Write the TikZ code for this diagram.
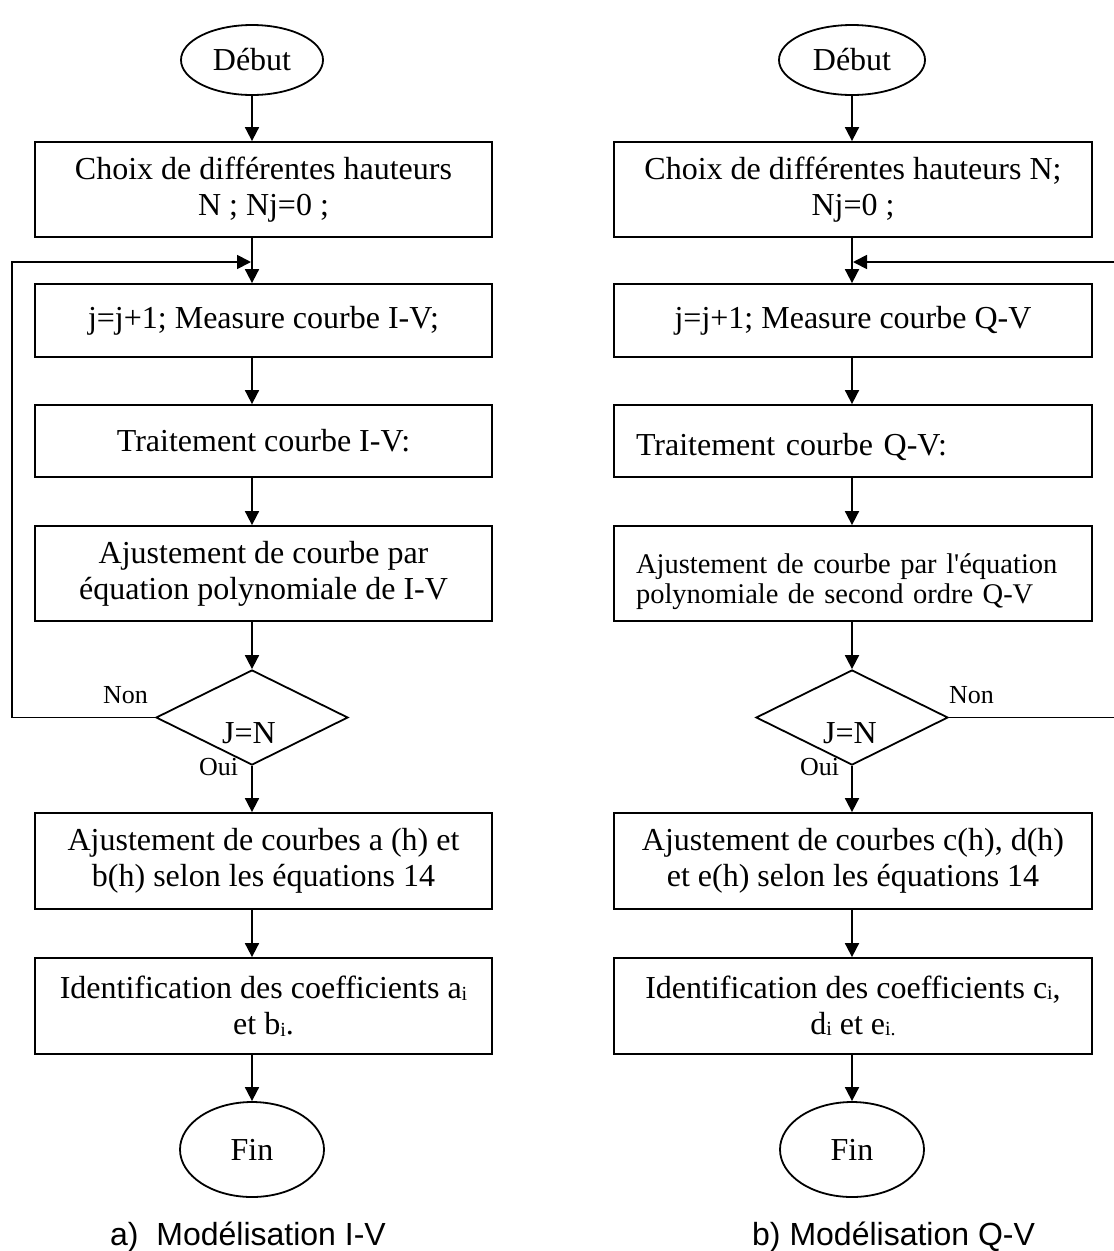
\documentclass[tikz,border=0pt]{standalone}
\usepackage{fontspec}
\setmainfont{Liberation Serif}
\newfontfamily\capfont{Liberation Sans}
\usetikzlibrary{shapes.geometric,arrows.meta}
\newcommand{\mysub}[1]{\raisebox{-1.5pt}{\fontsize{20}{20}\selectfont #1}}
\begin{document}
\begin{tikzpicture}[x=1pt,y=-1pt,
  every node/.style={inner sep=0pt},
  big/.style={font=\fontsize{32}{36}\selectfont},
  lbox/.style={draw, line width=1.8pt, minimum width=457pt, align=center, big},
  rbox/.style={draw, line width=1.8pt, minimum width=478pt, align=center, big},
  rlbox/.style={draw, line width=1.8pt, text width=434pt, inner xsep=22pt, inner ysep=0pt, align=left},
  term/.style={ellipse, draw, line width=1.8pt, big},
  decision/.style={diamond, draw, line width=1.8pt, minimum width=192pt, minimum height=95pt},
  arr/.style={line width=1.8pt, -{Triangle[length=14pt,width=14pt]}},
  lbl/.style={font=\fontsize{26}{26}\selectfont, anchor=base west},
  cond/.style={big, anchor=base west},
  captext/.style={font=\capfont\fontsize{32}{36}\selectfont, anchor=base west}]
\useasboundingbox (0,0) rectangle (1114,1251);

% ---------- left column ----------
\node[term, minimum width=142pt, minimum height=70pt] (debL) at (252,60) {Début};
\node[lbox, minimum height=95pt] (b1L) at (263.5,189.5) {Choix de différentes hauteurs\\N ; Nj=0 ;};
\node[lbox, minimum height=73pt] (b2L) at (263.5,320.5) {j=j+1; Measure courbe I-V;};
\node[lbox, minimum height=72pt] (b3L) at (263.5,441) {Traitement courbe I-V:};
\node[lbox, minimum height=95pt] (b4L) at (263.5,573.5) {Ajustement de courbe par\\équation polynomiale de I-V};
\node[decision] (dL) at (252,717.5) {};
\node[cond] (jnL) at (222,743) {J=N};
\node[lbl] (nonL) at (103,703) {Non};
\node[lbl] (ouiL) at (199,775) {Oui};
\node[lbox, minimum height=96pt] (b5L) at (263.5,861) {Ajustement de courbes a (h) et\\b(h) selon les équations 14};
\node[lbox, minimum height=96pt] (b6L) at (263.5,1006) {Identification des coefficients a\mysub{i}\\et b\mysub{i}.};
\node[term, minimum width=144pt, minimum height=95pt] (finL) at (252,1149.5) {Fin};
\coordinate (fbL) at (252,262);
\coordinate (cornL) at (12,262);

\draw[arr] (debL.south) -- (debL.south |- b1L.north);
\draw[arr] (b1L.south -| debL.south) -- (b2L.north -| debL.south);
\draw[arr] (b2L.south -| debL.south) -- (b3L.north -| debL.south);
\draw[arr] (b3L.south -| debL.south) -- (b4L.north -| debL.south);
\draw[arr] (b4L.south -| dL.north) -- (dL.north);
\draw[arr] (dL.south) -- (dL.south |- b5L.north);
\draw[arr] (b5L.south -| dL.south) -- (b6L.north -| dL.south);
\draw[arr] (b6L.south -| finL.north) -- (finL.north);
\draw[arr, shorten >=1pt] (dL.west) -| (cornL) -- (fbL);

% ---------- right column ----------
\node[term, minimum width=146pt, minimum height=70pt] (debR) at (852,60) {Début};
\node[rbox, minimum height=95pt] (b1R) at (853,189.5) {Choix de différentes hauteurs N;\\Nj=0 ;};
\node[rbox, minimum height=73pt] (b2R) at (853,320.5) {j=j+1; Measure courbe Q-V};
\node[rlbox, minimum height=72pt, text height=28pt, text depth=0pt, font=\fontsize{32}{36}\selectfont] (b3R) at (853,441) {Traitement courbe Q-V:};
\node[rlbox, minimum height=95pt, text height=24pt, text depth=25pt, font=\fontsize{28.5}{30}\selectfont] (b4R) at (853,573.5) {Ajustement de courbe par l\textquotesingle équation\\polynomiale de second ordre Q-V};
\node[decision] (dR) at (852,717.5) {};
\node[cond] (jnR) at (823,743) {J=N};
\node[lbl] (nonR) at (949,703) {Non};
\node[lbl] (ouiR) at (800,775) {Oui};
\node[rbox, minimum height=96pt] (b5R) at (853,861) {Ajustement de courbes c(h), d(h)\\et e(h) selon les équations 14};
\node[rbox, minimum height=96pt] (b6R) at (853,1006) {Identification des coefficients c\mysub{i},\\d\mysub{i} et e\mysub{i.}};
\node[term, minimum width=144pt, minimum height=95pt] (finR) at (852,1149.5) {Fin};
\coordinate (fbR) at (852,262);
\coordinate (cornR) at (1120,262);

\draw[arr] (debR.south) -- (debR.south |- b1R.north);
\draw[arr] (b1R.south -| debR.south) -- (b2R.north -| debR.south);
\draw[arr] (b2R.south -| debR.south) -- (b3R.north -| debR.south);
\draw[arr] (b3R.south -| debR.south) -- (b4R.north -| debR.south);
\draw[arr] (b4R.south -| dR.north) -- (dR.north);
\draw[arr] (dR.south) -- (dR.south |- b5R.north);
\draw[arr] (b5R.south -| dR.south) -- (b6R.north -| dR.south);
\draw[arr] (b6R.south -| finR.north) -- (finR.north);
\draw[arr, shorten >=1pt] (dR.east) -| (cornR) -- (fbR);

% ---------- captions ----------
\node[captext] (capA) at (110,1245) {a)\ \ Modélisation I-V};
\node[captext] (capB) at (752,1245) {b) Modélisation Q-V};
\end{tikzpicture}
\end{document}
